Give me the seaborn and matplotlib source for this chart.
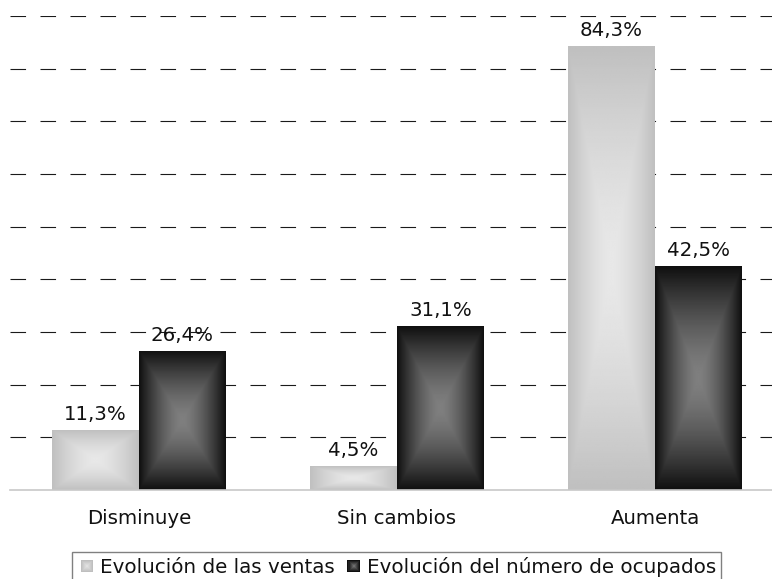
import numpy as np
import pandas as pd
import seaborn as sns
import matplotlib
matplotlib.use("Agg")
import matplotlib.pyplot as plt
from matplotlib.patches import Patch, Rectangle
from matplotlib.legend_handler import HandlerBase
from matplotlib.ticker import FixedLocator

# Data
categorias = ["Disminuye", "Sin cambios", "Aumenta"]
series = ["Evolución de las ventas", "Evolución del número de ocupados"]
ventas = [11.3, 4.5, 84.3]
ocupados = [26.4, 31.1, 42.5]
etiquetas_ventas = ["11,3%", "4,5%", "84,3%"]
etiquetas_ocupados = ["26,4%", "31,1%", "42,5%"]

# (centre, edge) grey levels of the gradient fill
grad = {series[0]: (0.91, 0.75), series[1]: (0.50, 0.06)}

df = pd.DataFrame({
    "categoria": categorias * 2,
    "serie": [series[0]] * 3 + [series[1]] * 3,
    "valor": ventas + ocupados,
})

sns.set_style("white")
plt.rcParams["font.family"] = ["DejaVu Sans"]
FS = 14.2

fig = plt.figure(figsize=(7.72, 5.79), dpi=100)
ax = fig.add_axes([10 / 772, 1 - 490 / 579, 774 / 772, 474 / 579])

sns.barplot(data=df, x="categoria", y="valor", hue="serie", order=categorias,
            hue_order=series, palette=["#d0d0d0", "#333333"], width=0.674,
            errorbar=None, legend=False, saturation=1, ax=ax)

# gradient fill ("from centre") clipped to each bar
n = 200
u = np.linspace(-1, 1, n)
U, V = np.meshgrid(u, u)
T = np.maximum(np.abs(U), np.abs(V)) ** 1.5
for serie, cont in zip(series, ax.containers):
    c, e = grad[serie]
    arr = c + (e - c) * T
    for bar in cont:
        x0, y0 = bar.get_x(), bar.get_y()
        w, h = bar.get_width(), bar.get_height()
        im = ax.imshow(arr, extent=[x0, x0 + w, y0, y0 + h], cmap="gray",
                       vmin=0, vmax=1, aspect="auto", interpolation="bilinear",
                       zorder=bar.get_zorder() + 0.1)
        im.set_clip_path(bar)
        bar.set_edgecolor("none")
ax.set_xlim(-0.5, 2.5)
ax.set_ylim(0, 90)
ax.set_aspect("auto")

# value labels
for cont, labs in zip(ax.containers, [etiquetas_ventas, etiquetas_ocupados]):
    for bar, lab in zip(cont, labs):
        ax.annotate(lab, (bar.get_x() + bar.get_width() / 2, bar.get_height()),
                    xytext=(0, 4.5), textcoords="offset points", ha="center",
                    va="bottom", fontsize=FS, color="#111111")

# dashed grid
ax.set_yticks(np.arange(10, 91, 10))
ax.yaxis.grid(True, color="#1a1a1a", linewidth=0.8, linestyle=(0, (14, 13)))
ax.set_axisbelow(True)
ax.tick_params(axis="y", left=False, labelleft=False)

for s in ["top", "right", "left"]:
    ax.spines[s].set_visible(False)
ax.spines["bottom"].set_color("#c8c8c8")
ax.spines["bottom"].set_linewidth(1.2)

ax.set_xlabel("")
ax.set_ylabel("")
ax.tick_params(axis="x", which="major", length=0, pad=14, labelsize=FS,
               labelcolor="#111111")
ax.xaxis.set_minor_locator(FixedLocator([-0.5, 0.5, 1.5, 2.5]))
ax.tick_params(axis="x", which="minor", length=4, width=1.2, color="#d0d0d0")


class GradHandler(HandlerBase):
    def create_artists(self, legend, orig, xd, yd, w, h, fontsize, trans):
        c, e = grad[orig.get_label()]
        s = min(w, h)
        x0 = -xd + (w - s) / 2
        y0 = -yd + (h - s) / 2
        arts = []
        k = 6
        for i in range(k):
            f = i / k
            g = e + (c - e) * f
            r = Rectangle((x0 + s * f / 2, y0 + s * f / 2), s * (1 - f), s * (1 - f),
                          facecolor=str(g), edgecolor="none", transform=trans)
            arts.append(r)
        return arts


handles = [Patch(label=s) for s in series]
leg = fig.legend(handles=handles, loc="upper center",
                 bbox_to_anchor=(396.5 / 772, 1 - 552 / 579), ncol=2,
                 fontsize=14.3, frameon=True, fancybox=False, framealpha=1,
                 edgecolor="#808080", borderpad=0.25, borderaxespad=0,
                 handlelength=1.0, handleheight=0.6, handletextpad=0.15,
                 columnspacing=0.46, handler_map={Patch: GradHandler()})
leg.get_frame().set_linewidth(1.0)
for t in leg.get_texts():
    t.set_color("#111111")

fig.savefig("out.png", dpi=100)
plt.close(fig)
